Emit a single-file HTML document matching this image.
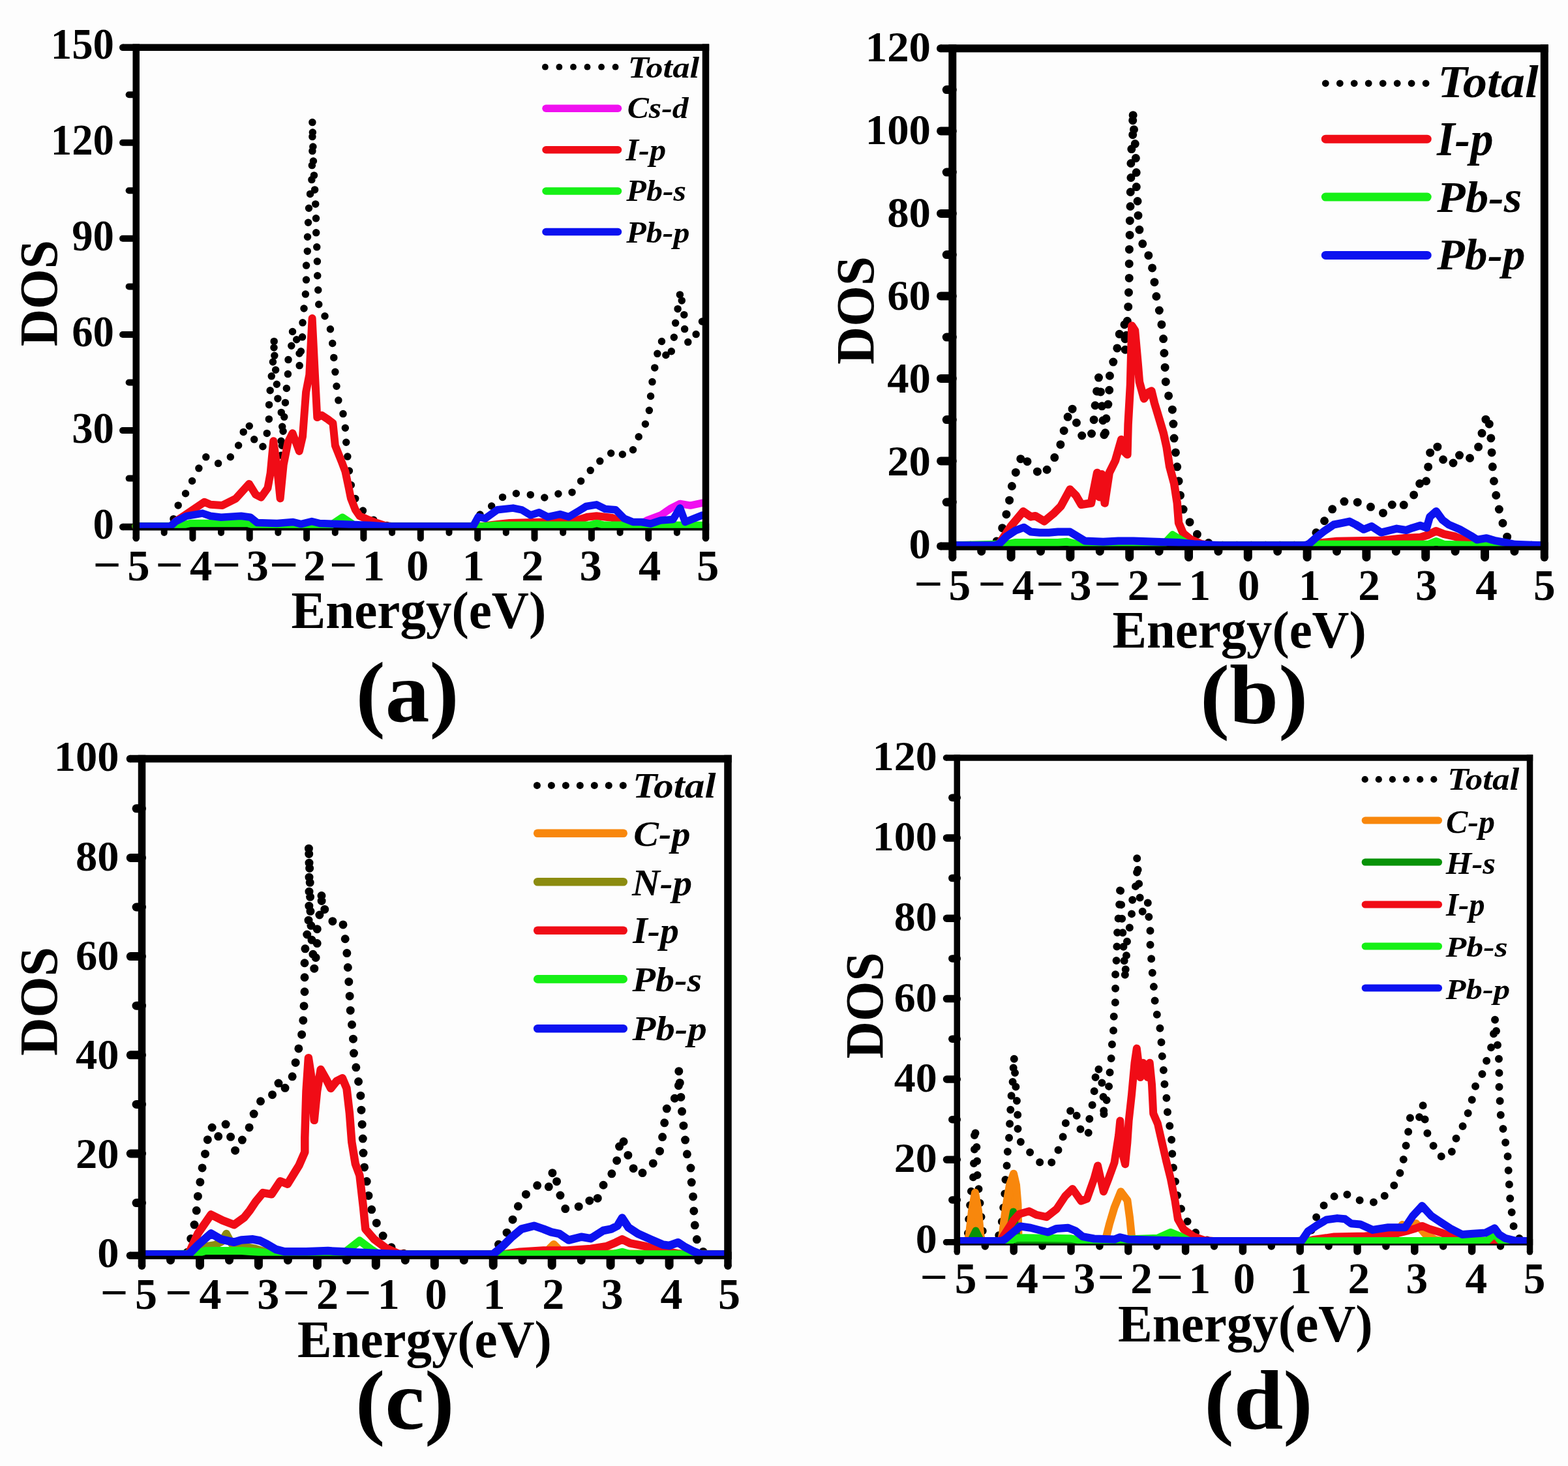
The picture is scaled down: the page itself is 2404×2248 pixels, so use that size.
<!DOCTYPE html>
<html><head><meta charset="utf-8"><title>DOS figure</title>
<style>
html,body{margin:0;padding:0;background:#fff;}
svg{display:block;}
text{font-family:"Liberation Serif","Times New Roman",serif;}
</style></head>
<body>
<svg width="2404" height="2248" viewBox="0 0 2404 2248">
<rect x="0" y="0" width="2404" height="2248" fill="#fdfdfd"/>
<line x1="188.2" y1="72.7" x2="1087.2" y2="72.7" stroke="#000" stroke-width="10.5" stroke-linecap="butt"/>
<circle cx="188.2" cy="72.7" r="5.25" fill="#000"/>
<line x1="188.2" y1="808.0" x2="1087.2" y2="808.0" stroke="#000" stroke-width="10.5" stroke-linecap="butt"/>
<circle cx="188.2" cy="808.0" r="5.25" fill="#000"/>
<line x1="188.0" y1="660.1" x2="208.7" y2="660.1" stroke="#000" stroke-width="10" stroke-linecap="round"/>
<line x1="188.0" y1="513.0" x2="208.7" y2="513.0" stroke="#000" stroke-width="10" stroke-linecap="round"/>
<line x1="188.0" y1="365.8" x2="208.7" y2="365.8" stroke="#000" stroke-width="10" stroke-linecap="round"/>
<line x1="188.0" y1="218.7" x2="208.7" y2="218.7" stroke="#000" stroke-width="10" stroke-linecap="round"/>
<line x1="197.6" y1="733.6" x2="208.7" y2="733.6" stroke="#000" stroke-width="10" stroke-linecap="round"/>
<line x1="197.6" y1="586.5" x2="208.7" y2="586.5" stroke="#000" stroke-width="10" stroke-linecap="round"/>
<line x1="197.6" y1="439.4" x2="208.7" y2="439.4" stroke="#000" stroke-width="10" stroke-linecap="round"/>
<line x1="197.6" y1="292.3" x2="208.7" y2="292.3" stroke="#000" stroke-width="10" stroke-linecap="round"/>
<line x1="197.6" y1="145.2" x2="208.7" y2="145.2" stroke="#000" stroke-width="10" stroke-linecap="round"/>
<line x1="295.4" y1="808.0" x2="295.4" y2="825.5" stroke="#000" stroke-width="10" stroke-linecap="round"/>
<line x1="382.7" y1="808.0" x2="382.7" y2="825.5" stroke="#000" stroke-width="10" stroke-linecap="round"/>
<line x1="470.1" y1="808.0" x2="470.1" y2="825.5" stroke="#000" stroke-width="10" stroke-linecap="round"/>
<line x1="557.4" y1="808.0" x2="557.4" y2="825.5" stroke="#000" stroke-width="10" stroke-linecap="round"/>
<line x1="644.8" y1="808.0" x2="644.8" y2="825.5" stroke="#000" stroke-width="10" stroke-linecap="round"/>
<line x1="732.2" y1="808.0" x2="732.2" y2="825.5" stroke="#000" stroke-width="10" stroke-linecap="round"/>
<line x1="819.5" y1="808.0" x2="819.5" y2="825.5" stroke="#000" stroke-width="10" stroke-linecap="round"/>
<line x1="906.9" y1="808.0" x2="906.9" y2="825.5" stroke="#000" stroke-width="10" stroke-linecap="round"/>
<line x1="994.2" y1="808.0" x2="994.2" y2="825.5" stroke="#000" stroke-width="10" stroke-linecap="round"/>
<line x1="251.7" y1="808.0" x2="251.7" y2="817.0" stroke="#000" stroke-width="10" stroke-linecap="round"/>
<line x1="339.0" y1="808.0" x2="339.0" y2="817.0" stroke="#000" stroke-width="10" stroke-linecap="round"/>
<line x1="426.4" y1="808.0" x2="426.4" y2="817.0" stroke="#000" stroke-width="10" stroke-linecap="round"/>
<line x1="513.8" y1="808.0" x2="513.8" y2="817.0" stroke="#000" stroke-width="10" stroke-linecap="round"/>
<line x1="601.1" y1="808.0" x2="601.1" y2="817.0" stroke="#000" stroke-width="10" stroke-linecap="round"/>
<line x1="688.5" y1="808.0" x2="688.5" y2="817.0" stroke="#000" stroke-width="10" stroke-linecap="round"/>
<line x1="775.8" y1="808.0" x2="775.8" y2="817.0" stroke="#000" stroke-width="10" stroke-linecap="round"/>
<line x1="863.2" y1="808.0" x2="863.2" y2="817.0" stroke="#000" stroke-width="10" stroke-linecap="round"/>
<line x1="950.6" y1="808.0" x2="950.6" y2="817.0" stroke="#000" stroke-width="10" stroke-linecap="round"/>
<line x1="1037.9" y1="808.0" x2="1037.9" y2="817.0" stroke="#000" stroke-width="10" stroke-linecap="round"/>
<text transform="translate(142.52,825.70) scale(0.9550,1)" font-size="67.80" style="font-weight:bold;" fill="#000" >0</text>
<text transform="translate(110.14,678.58) scale(0.9550,1)" font-size="67.80" style="font-weight:bold;" fill="#000" >30</text>
<text transform="translate(110.14,531.46) scale(0.9550,1)" font-size="67.80" style="font-weight:bold;" fill="#000" >60</text>
<text transform="translate(110.14,384.34) scale(0.9550,1)" font-size="67.80" style="font-weight:bold;" fill="#000" >90</text>
<text transform="translate(77.77,237.22) scale(0.9550,1)" font-size="67.80" style="font-weight:bold;" fill="#000" >120</text>
<text transform="translate(77.77,90.10) scale(0.9550,1)" font-size="67.80" style="font-weight:bold;" fill="#000" >150</text>
<line x1="1442.0" y1="74.3" x2="2373.8" y2="74.3" stroke="#000" stroke-width="12" stroke-linecap="butt"/>
<circle cx="1442.0" cy="74.3" r="6.00" fill="#000"/>
<line x1="1442.0" y1="837.6" x2="2373.8" y2="837.6" stroke="#000" stroke-width="12" stroke-linecap="butt"/>
<circle cx="1442.0" cy="837.6" r="6.00" fill="#000"/>
<line x1="1442.5" y1="706.9" x2="1460.3" y2="706.9" stroke="#000" stroke-width="13" stroke-linecap="round"/>
<line x1="1442.5" y1="580.4" x2="1460.3" y2="580.4" stroke="#000" stroke-width="13" stroke-linecap="round"/>
<line x1="1442.5" y1="453.9" x2="1460.3" y2="453.9" stroke="#000" stroke-width="13" stroke-linecap="round"/>
<line x1="1442.5" y1="327.4" x2="1460.3" y2="327.4" stroke="#000" stroke-width="13" stroke-linecap="round"/>
<line x1="1442.5" y1="200.9" x2="1460.3" y2="200.9" stroke="#000" stroke-width="13" stroke-linecap="round"/>
<line x1="1451.2" y1="770.1" x2="1460.3" y2="770.1" stroke="#000" stroke-width="13" stroke-linecap="round"/>
<line x1="1451.2" y1="643.6" x2="1460.3" y2="643.6" stroke="#000" stroke-width="13" stroke-linecap="round"/>
<line x1="1451.2" y1="517.1" x2="1460.3" y2="517.1" stroke="#000" stroke-width="13" stroke-linecap="round"/>
<line x1="1451.2" y1="390.6" x2="1460.3" y2="390.6" stroke="#000" stroke-width="13" stroke-linecap="round"/>
<line x1="1451.2" y1="264.1" x2="1460.3" y2="264.1" stroke="#000" stroke-width="13" stroke-linecap="round"/>
<line x1="1451.2" y1="137.6" x2="1460.3" y2="137.6" stroke="#000" stroke-width="13" stroke-linecap="round"/>
<line x1="1550.1" y1="837.6" x2="1550.1" y2="854.5" stroke="#000" stroke-width="13" stroke-linecap="round"/>
<line x1="1640.9" y1="837.6" x2="1640.9" y2="854.5" stroke="#000" stroke-width="13" stroke-linecap="round"/>
<line x1="1731.7" y1="837.6" x2="1731.7" y2="854.5" stroke="#000" stroke-width="13" stroke-linecap="round"/>
<line x1="1822.5" y1="837.6" x2="1822.5" y2="854.5" stroke="#000" stroke-width="13" stroke-linecap="round"/>
<line x1="1913.3" y1="837.6" x2="1913.3" y2="854.5" stroke="#000" stroke-width="13" stroke-linecap="round"/>
<line x1="2004.1" y1="837.6" x2="2004.1" y2="854.5" stroke="#000" stroke-width="13" stroke-linecap="round"/>
<line x1="2094.9" y1="837.6" x2="2094.9" y2="854.5" stroke="#000" stroke-width="13" stroke-linecap="round"/>
<line x1="2185.7" y1="837.6" x2="2185.7" y2="854.5" stroke="#000" stroke-width="13" stroke-linecap="round"/>
<line x1="2276.5" y1="837.6" x2="2276.5" y2="854.5" stroke="#000" stroke-width="13" stroke-linecap="round"/>
<line x1="1504.7" y1="837.6" x2="1504.7" y2="845.5" stroke="#000" stroke-width="13" stroke-linecap="round"/>
<line x1="1595.5" y1="837.6" x2="1595.5" y2="845.5" stroke="#000" stroke-width="13" stroke-linecap="round"/>
<line x1="1686.3" y1="837.6" x2="1686.3" y2="845.5" stroke="#000" stroke-width="13" stroke-linecap="round"/>
<line x1="1777.1" y1="837.6" x2="1777.1" y2="845.5" stroke="#000" stroke-width="13" stroke-linecap="round"/>
<line x1="1867.9" y1="837.6" x2="1867.9" y2="845.5" stroke="#000" stroke-width="13" stroke-linecap="round"/>
<line x1="1958.7" y1="837.6" x2="1958.7" y2="845.5" stroke="#000" stroke-width="13" stroke-linecap="round"/>
<line x1="2049.5" y1="837.6" x2="2049.5" y2="845.5" stroke="#000" stroke-width="13" stroke-linecap="round"/>
<line x1="2140.3" y1="837.6" x2="2140.3" y2="845.5" stroke="#000" stroke-width="13" stroke-linecap="round"/>
<line x1="2231.1" y1="837.6" x2="2231.1" y2="845.5" stroke="#000" stroke-width="13" stroke-linecap="round"/>
<line x1="2321.9" y1="837.6" x2="2321.9" y2="845.5" stroke="#000" stroke-width="13" stroke-linecap="round"/>
<text transform="translate(1393.57,855.75) scale(1.0200,1)" font-size="65.50" style="font-weight:bold;" fill="#000" >0</text>
<text transform="translate(1360.16,728.72) scale(1.0200,1)" font-size="65.50" style="font-weight:bold;" fill="#000" >20</text>
<text transform="translate(1360.16,601.68) scale(1.0200,1)" font-size="65.50" style="font-weight:bold;" fill="#000" >40</text>
<text transform="translate(1360.16,474.65) scale(1.0200,1)" font-size="65.50" style="font-weight:bold;" fill="#000" >60</text>
<text transform="translate(1360.16,347.62) scale(1.0200,1)" font-size="65.50" style="font-weight:bold;" fill="#000" >80</text>
<text transform="translate(1326.76,220.58) scale(1.0200,1)" font-size="65.50" style="font-weight:bold;" fill="#000" >100</text>
<text transform="translate(1326.76,93.55) scale(1.0200,1)" font-size="65.50" style="font-weight:bold;" fill="#000" >120</text>
<line x1="199.4" y1="1163.6" x2="1121.8" y2="1163.6" stroke="#000" stroke-width="11.5" stroke-linecap="butt"/>
<circle cx="199.4" cy="1163.6" r="5.75" fill="#000"/>
<line x1="199.4" y1="1925.2" x2="1121.8" y2="1925.2" stroke="#000" stroke-width="11.5" stroke-linecap="butt"/>
<circle cx="199.4" cy="1925.2" r="5.75" fill="#000"/>
<line x1="200.2" y1="1769.0" x2="217.5" y2="1769.0" stroke="#000" stroke-width="13" stroke-linecap="round"/>
<line x1="200.2" y1="1617.8" x2="217.5" y2="1617.8" stroke="#000" stroke-width="13" stroke-linecap="round"/>
<line x1="200.2" y1="1466.6" x2="217.5" y2="1466.6" stroke="#000" stroke-width="13" stroke-linecap="round"/>
<line x1="200.2" y1="1315.4" x2="217.5" y2="1315.4" stroke="#000" stroke-width="13" stroke-linecap="round"/>
<line x1="209.0" y1="1844.6" x2="217.5" y2="1844.6" stroke="#000" stroke-width="13" stroke-linecap="round"/>
<line x1="209.0" y1="1693.4" x2="217.5" y2="1693.4" stroke="#000" stroke-width="13" stroke-linecap="round"/>
<line x1="209.0" y1="1542.2" x2="217.5" y2="1542.2" stroke="#000" stroke-width="13" stroke-linecap="round"/>
<line x1="209.0" y1="1391.0" x2="217.5" y2="1391.0" stroke="#000" stroke-width="13" stroke-linecap="round"/>
<line x1="209.0" y1="1239.8" x2="217.5" y2="1239.8" stroke="#000" stroke-width="13" stroke-linecap="round"/>
<line x1="306.5" y1="1925.2" x2="306.5" y2="1940.5" stroke="#000" stroke-width="13" stroke-linecap="round"/>
<line x1="396.4" y1="1925.2" x2="396.4" y2="1940.5" stroke="#000" stroke-width="13" stroke-linecap="round"/>
<line x1="486.4" y1="1925.2" x2="486.4" y2="1940.5" stroke="#000" stroke-width="13" stroke-linecap="round"/>
<line x1="576.3" y1="1925.2" x2="576.3" y2="1940.5" stroke="#000" stroke-width="13" stroke-linecap="round"/>
<line x1="666.3" y1="1925.2" x2="666.3" y2="1940.5" stroke="#000" stroke-width="13" stroke-linecap="round"/>
<line x1="756.2" y1="1925.2" x2="756.2" y2="1940.5" stroke="#000" stroke-width="13" stroke-linecap="round"/>
<line x1="846.2" y1="1925.2" x2="846.2" y2="1940.5" stroke="#000" stroke-width="13" stroke-linecap="round"/>
<line x1="936.1" y1="1925.2" x2="936.1" y2="1940.5" stroke="#000" stroke-width="13" stroke-linecap="round"/>
<line x1="1026.1" y1="1925.2" x2="1026.1" y2="1940.5" stroke="#000" stroke-width="13" stroke-linecap="round"/>
<line x1="261.5" y1="1925.2" x2="261.5" y2="1932.5" stroke="#000" stroke-width="13" stroke-linecap="round"/>
<line x1="351.5" y1="1925.2" x2="351.5" y2="1932.5" stroke="#000" stroke-width="13" stroke-linecap="round"/>
<line x1="441.4" y1="1925.2" x2="441.4" y2="1932.5" stroke="#000" stroke-width="13" stroke-linecap="round"/>
<line x1="531.4" y1="1925.2" x2="531.4" y2="1932.5" stroke="#000" stroke-width="13" stroke-linecap="round"/>
<line x1="621.3" y1="1925.2" x2="621.3" y2="1932.5" stroke="#000" stroke-width="13" stroke-linecap="round"/>
<line x1="711.3" y1="1925.2" x2="711.3" y2="1932.5" stroke="#000" stroke-width="13" stroke-linecap="round"/>
<line x1="801.2" y1="1925.2" x2="801.2" y2="1932.5" stroke="#000" stroke-width="13" stroke-linecap="round"/>
<line x1="891.2" y1="1925.2" x2="891.2" y2="1932.5" stroke="#000" stroke-width="13" stroke-linecap="round"/>
<line x1="981.1" y1="1925.2" x2="981.1" y2="1932.5" stroke="#000" stroke-width="13" stroke-linecap="round"/>
<line x1="1071.1" y1="1925.2" x2="1071.1" y2="1932.5" stroke="#000" stroke-width="13" stroke-linecap="round"/>
<text transform="translate(149.14,1943.42) scale(1.0300,1)" font-size="64.50" style="font-weight:bold;" fill="#000" >0</text>
<text transform="translate(115.92,1791.22) scale(1.0300,1)" font-size="64.50" style="font-weight:bold;" fill="#000" >20</text>
<text transform="translate(115.92,1639.02) scale(1.0300,1)" font-size="64.50" style="font-weight:bold;" fill="#000" >40</text>
<text transform="translate(115.92,1486.82) scale(1.0300,1)" font-size="64.50" style="font-weight:bold;" fill="#000" >60</text>
<text transform="translate(115.92,1334.62) scale(1.0300,1)" font-size="64.50" style="font-weight:bold;" fill="#000" >80</text>
<text transform="translate(82.70,1182.42) scale(1.0300,1)" font-size="64.50" style="font-weight:bold;" fill="#000" >100</text>
<line x1="1450.5" y1="1162.0" x2="2350.2" y2="1162.0" stroke="#000" stroke-width="9.5" stroke-linecap="butt"/>
<circle cx="1450.5" cy="1162.0" r="4.75" fill="#000"/>
<line x1="1450.5" y1="1904.8" x2="2350.2" y2="1904.8" stroke="#000" stroke-width="9.5" stroke-linecap="butt"/>
<circle cx="1450.5" cy="1904.8" r="4.75" fill="#000"/>
<line x1="1451.5" y1="1778.3" x2="1467.3" y2="1778.3" stroke="#000" stroke-width="11.5" stroke-linecap="round"/>
<line x1="1451.5" y1="1655.0" x2="1467.3" y2="1655.0" stroke="#000" stroke-width="11.5" stroke-linecap="round"/>
<line x1="1451.5" y1="1531.6" x2="1467.3" y2="1531.6" stroke="#000" stroke-width="11.5" stroke-linecap="round"/>
<line x1="1451.5" y1="1408.3" x2="1467.3" y2="1408.3" stroke="#000" stroke-width="11.5" stroke-linecap="round"/>
<line x1="1451.5" y1="1284.9" x2="1467.3" y2="1284.9" stroke="#000" stroke-width="11.5" stroke-linecap="round"/>
<line x1="1459.8" y1="1840.0" x2="1467.3" y2="1840.0" stroke="#000" stroke-width="11.5" stroke-linecap="round"/>
<line x1="1459.8" y1="1716.7" x2="1467.3" y2="1716.7" stroke="#000" stroke-width="11.5" stroke-linecap="round"/>
<line x1="1459.8" y1="1593.3" x2="1467.3" y2="1593.3" stroke="#000" stroke-width="11.5" stroke-linecap="round"/>
<line x1="1459.8" y1="1469.9" x2="1467.3" y2="1469.9" stroke="#000" stroke-width="11.5" stroke-linecap="round"/>
<line x1="1459.8" y1="1346.6" x2="1467.3" y2="1346.6" stroke="#000" stroke-width="11.5" stroke-linecap="round"/>
<line x1="1459.8" y1="1223.2" x2="1467.3" y2="1223.2" stroke="#000" stroke-width="11.5" stroke-linecap="round"/>
<line x1="1554.2" y1="1904.8" x2="1554.2" y2="1918.8" stroke="#000" stroke-width="11.5" stroke-linecap="round"/>
<line x1="1642.0" y1="1904.8" x2="1642.0" y2="1918.8" stroke="#000" stroke-width="11.5" stroke-linecap="round"/>
<line x1="1729.8" y1="1904.8" x2="1729.8" y2="1918.8" stroke="#000" stroke-width="11.5" stroke-linecap="round"/>
<line x1="1817.6" y1="1904.8" x2="1817.6" y2="1918.8" stroke="#000" stroke-width="11.5" stroke-linecap="round"/>
<line x1="1905.4" y1="1904.8" x2="1905.4" y2="1918.8" stroke="#000" stroke-width="11.5" stroke-linecap="round"/>
<line x1="1993.2" y1="1904.8" x2="1993.2" y2="1918.8" stroke="#000" stroke-width="11.5" stroke-linecap="round"/>
<line x1="2081.0" y1="1904.8" x2="2081.0" y2="1918.8" stroke="#000" stroke-width="11.5" stroke-linecap="round"/>
<line x1="2168.8" y1="1904.8" x2="2168.8" y2="1918.8" stroke="#000" stroke-width="11.5" stroke-linecap="round"/>
<line x1="2256.6" y1="1904.8" x2="2256.6" y2="1918.8" stroke="#000" stroke-width="11.5" stroke-linecap="round"/>
<line x1="1510.3" y1="1904.8" x2="1510.3" y2="1911.0" stroke="#000" stroke-width="11.5" stroke-linecap="round"/>
<line x1="1598.1" y1="1904.8" x2="1598.1" y2="1911.0" stroke="#000" stroke-width="11.5" stroke-linecap="round"/>
<line x1="1685.9" y1="1904.8" x2="1685.9" y2="1911.0" stroke="#000" stroke-width="11.5" stroke-linecap="round"/>
<line x1="1773.7" y1="1904.8" x2="1773.7" y2="1911.0" stroke="#000" stroke-width="11.5" stroke-linecap="round"/>
<line x1="1861.5" y1="1904.8" x2="1861.5" y2="1911.0" stroke="#000" stroke-width="11.5" stroke-linecap="round"/>
<line x1="1949.3" y1="1904.8" x2="1949.3" y2="1911.0" stroke="#000" stroke-width="11.5" stroke-linecap="round"/>
<line x1="2037.1" y1="1904.8" x2="2037.1" y2="1911.0" stroke="#000" stroke-width="11.5" stroke-linecap="round"/>
<line x1="2124.9" y1="1904.8" x2="2124.9" y2="1911.0" stroke="#000" stroke-width="11.5" stroke-linecap="round"/>
<line x1="2212.7" y1="1904.8" x2="2212.7" y2="1911.0" stroke="#000" stroke-width="11.5" stroke-linecap="round"/>
<line x1="2300.5" y1="1904.8" x2="2300.5" y2="1911.0" stroke="#000" stroke-width="11.5" stroke-linecap="round"/>
<text transform="translate(1403.68,1920.66) scale(1.0300,1)" font-size="64.00" style="font-weight:bold;" fill="#000" >0</text>
<text transform="translate(1370.72,1797.30) scale(1.0300,1)" font-size="64.00" style="font-weight:bold;" fill="#000" >20</text>
<text transform="translate(1370.72,1673.94) scale(1.0300,1)" font-size="64.00" style="font-weight:bold;" fill="#000" >40</text>
<text transform="translate(1370.72,1550.58) scale(1.0300,1)" font-size="64.00" style="font-weight:bold;" fill="#000" >60</text>
<text transform="translate(1370.72,1427.22) scale(1.0300,1)" font-size="64.00" style="font-weight:bold;" fill="#000" >80</text>
<text transform="translate(1337.76,1303.86) scale(1.0300,1)" font-size="64.00" style="font-weight:bold;" fill="#000" >100</text>
<text transform="translate(1337.76,1180.50) scale(1.0300,1)" font-size="64.00" style="font-weight:bold;" fill="#000" >120</text>
<text transform="translate(195.27,889.80) scale(1.0000,1)" font-size="68.64" style="font-weight:bold;" fill="#000" >5</text>
<text transform="translate(290.96,889.80) scale(1.0000,1)" font-size="68.64" style="font-weight:bold;" fill="#000" >4</text>
<text transform="translate(377.59,889.80) scale(1.0000,1)" font-size="68.64" style="font-weight:bold;" fill="#000" >3</text>
<text transform="translate(464.99,889.80) scale(1.0000,1)" font-size="68.64" style="font-weight:bold;" fill="#000" >2</text>
<text transform="translate(555.71,889.80) scale(1.0000,1)" font-size="68.64" style="font-weight:bold;" fill="#000" >1</text>
<text transform="translate(623.04,889.80) scale(1.0000,1)" font-size="68.64" style="font-weight:bold;" fill="#000" >0</text>
<text transform="translate(708.81,889.80) scale(1.0000,1)" font-size="68.64" style="font-weight:bold;" fill="#000" >1</text>
<text transform="translate(799.14,889.80) scale(1.0000,1)" font-size="68.64" style="font-weight:bold;" fill="#000" >2</text>
<text transform="translate(888.44,889.80) scale(1.0000,1)" font-size="68.64" style="font-weight:bold;" fill="#000" >3</text>
<text transform="translate(979.11,889.80) scale(1.0000,1)" font-size="68.64" style="font-weight:bold;" fill="#000" >4</text>
<text transform="translate(1068.07,889.80) scale(1.0000,1)" font-size="68.64" style="font-weight:bold;" fill="#000" >5</text>
<text transform="translate(142.21,888.65) scale(1.1036,1)" font-size="68.64" style="font-weight:bold;" fill="#000" >−</text>
<text transform="translate(238.28,888.65) scale(1.0850,1)" font-size="68.64" style="font-weight:bold;" fill="#000" >−</text>
<text transform="translate(324.82,888.65) scale(1.1315,1)" font-size="68.64" style="font-weight:bold;" fill="#000" >−</text>
<text transform="translate(412.82,888.65) scale(1.1315,1)" font-size="68.64" style="font-weight:bold;" fill="#000" >−</text>
<text transform="translate(504.76,888.65) scale(1.0912,1)" font-size="68.64" style="font-weight:bold;" fill="#000" >−</text>
<text transform="translate(1454.61,919.90) scale(1.0000,1)" font-size="67.27" style="font-weight:bold;" fill="#000" >5</text>
<text transform="translate(1551.70,919.90) scale(1.0000,1)" font-size="67.27" style="font-weight:bold;" fill="#000" >4</text>
<text transform="translate(1639.78,919.90) scale(1.0000,1)" font-size="67.27" style="font-weight:bold;" fill="#000" >3</text>
<text transform="translate(1728.73,919.90) scale(1.0000,1)" font-size="67.27" style="font-weight:bold;" fill="#000" >2</text>
<text transform="translate(1822.52,919.90) scale(1.0000,1)" font-size="67.27" style="font-weight:bold;" fill="#000" >1</text>
<text transform="translate(1897.83,919.90) scale(1.0000,1)" font-size="67.27" style="font-weight:bold;" fill="#000" >0</text>
<text transform="translate(1991.02,919.90) scale(1.0000,1)" font-size="67.27" style="font-weight:bold;" fill="#000" >1</text>
<text transform="translate(2082.23,919.90) scale(1.0000,1)" font-size="67.27" style="font-weight:bold;" fill="#000" >2</text>
<text transform="translate(2169.88,919.90) scale(1.0000,1)" font-size="67.27" style="font-weight:bold;" fill="#000" >3</text>
<text transform="translate(2262.25,919.90) scale(1.0000,1)" font-size="67.27" style="font-weight:bold;" fill="#000" >4</text>
<text transform="translate(2350.91,919.90) scale(1.0000,1)" font-size="67.27" style="font-weight:bold;" fill="#000" >5</text>
<text transform="translate(1400.90,918.20) scale(1.1607,1)" font-size="67.27" style="font-weight:bold;" fill="#000" >−</text>
<text transform="translate(1499.24,918.20) scale(1.1164,1)" font-size="67.27" style="font-weight:bold;" fill="#000" >−</text>
<text transform="translate(1588.14,918.20) scale(1.1164,1)" font-size="67.27" style="font-weight:bold;" fill="#000" >−</text>
<text transform="translate(1677.18,918.20) scale(1.0753,1)" font-size="67.27" style="font-weight:bold;" fill="#000" >−</text>
<text transform="translate(1771.24,918.20) scale(1.1164,1)" font-size="67.27" style="font-weight:bold;" fill="#000" >−</text>
<text transform="translate(207.02,2007.30) scale(1.0000,1)" font-size="68.03" style="font-weight:bold;" fill="#000" >5</text>
<text transform="translate(305.41,2007.30) scale(1.0000,1)" font-size="68.03" style="font-weight:bold;" fill="#000" >4</text>
<text transform="translate(394.19,2007.30) scale(1.0000,1)" font-size="68.03" style="font-weight:bold;" fill="#000" >3</text>
<text transform="translate(485.09,2007.30) scale(1.0000,1)" font-size="68.03" style="font-weight:bold;" fill="#000" >2</text>
<text transform="translate(578.87,2007.30) scale(1.0000,1)" font-size="68.03" style="font-weight:bold;" fill="#000" >1</text>
<text transform="translate(651.39,2007.30) scale(1.0000,1)" font-size="68.03" style="font-weight:bold;" fill="#000" >0</text>
<text transform="translate(740.62,2007.30) scale(1.0000,1)" font-size="68.03" style="font-weight:bold;" fill="#000" >1</text>
<text transform="translate(831.24,2007.30) scale(1.0000,1)" font-size="68.03" style="font-weight:bold;" fill="#000" >2</text>
<text transform="translate(921.44,2007.30) scale(1.0000,1)" font-size="68.03" style="font-weight:bold;" fill="#000" >3</text>
<text transform="translate(1012.51,2007.30) scale(1.0000,1)" font-size="68.03" style="font-weight:bold;" fill="#000" >4</text>
<text transform="translate(1101.02,2007.30) scale(1.0000,1)" font-size="68.03" style="font-weight:bold;" fill="#000" >5</text>
<text transform="translate(153.74,2005.45) scale(1.1040,1)" font-size="68.03" style="font-weight:bold;" fill="#000" >−</text>
<text transform="translate(253.28,2005.45) scale(1.0634,1)" font-size="68.03" style="font-weight:bold;" fill="#000" >−</text>
<text transform="translate(343.48,2005.45) scale(1.0634,1)" font-size="68.03" style="font-weight:bold;" fill="#000" >−</text>
<text transform="translate(433.78,2005.45) scale(1.0634,1)" font-size="68.03" style="font-weight:bold;" fill="#000" >−</text>
<text transform="translate(527.88,2005.45) scale(1.0634,1)" font-size="68.03" style="font-weight:bold;" fill="#000" >−</text>
<text transform="translate(1463.66,1983.20) scale(1.0000,1)" font-size="67.27" style="font-weight:bold;" fill="#000" >5</text>
<text transform="translate(1558.25,1983.20) scale(1.0000,1)" font-size="67.27" style="font-weight:bold;" fill="#000" >4</text>
<text transform="translate(1645.68,1983.20) scale(1.0000,1)" font-size="67.27" style="font-weight:bold;" fill="#000" >3</text>
<text transform="translate(1733.28,1983.20) scale(1.0000,1)" font-size="67.27" style="font-weight:bold;" fill="#000" >2</text>
<text transform="translate(1822.52,1983.20) scale(1.0000,1)" font-size="67.27" style="font-weight:bold;" fill="#000" >1</text>
<text transform="translate(1890.68,1983.20) scale(1.0000,1)" font-size="67.27" style="font-weight:bold;" fill="#000" >0</text>
<text transform="translate(1977.27,1983.20) scale(1.0000,1)" font-size="67.27" style="font-weight:bold;" fill="#000" >1</text>
<text transform="translate(2066.53,1983.20) scale(1.0000,1)" font-size="67.27" style="font-weight:bold;" fill="#000" >2</text>
<text transform="translate(2155.48,1983.20) scale(1.0000,1)" font-size="67.27" style="font-weight:bold;" fill="#000" >3</text>
<text transform="translate(2246.55,1983.20) scale(1.0000,1)" font-size="67.27" style="font-weight:bold;" fill="#000" >4</text>
<text transform="translate(2335.76,1983.20) scale(1.0000,1)" font-size="67.27" style="font-weight:bold;" fill="#000" >5</text>
<text transform="translate(1410.24,1981.40) scale(1.1164,1)" font-size="67.27" style="font-weight:bold;" fill="#000" >−</text>
<text transform="translate(1507.18,1981.40) scale(1.0753,1)" font-size="67.27" style="font-weight:bold;" fill="#000" >−</text>
<text transform="translate(1594.78,1981.40) scale(1.0753,1)" font-size="67.27" style="font-weight:bold;" fill="#000" >−</text>
<text transform="translate(1682.38,1981.40) scale(1.0753,1)" font-size="67.27" style="font-weight:bold;" fill="#000" >−</text>
<text transform="translate(1772.68,1981.40) scale(1.0753,1)" font-size="67.27" style="font-weight:bold;" fill="#000" >−</text>
<text transform="translate(87.00,531.19) rotate(-90) scale(0.9603,1)" font-size="82.58" style="font-weight:bold" fill="#000">DOS</text>
<text transform="translate(1338.70,559.01) rotate(-90) scale(0.9773,1)" font-size="82.58" style="font-weight:bold" fill="#000">DOS</text>
<text transform="translate(86.70,1619.02) rotate(-90) scale(0.9827,1)" font-size="82.58" style="font-weight:bold" fill="#000">DOS</text>
<text transform="translate(1353.20,1623.59) rotate(-90) scale(0.9741,1)" font-size="81.52" style="font-weight:bold" fill="#000">DOS</text>
<text transform="translate(446.61,963.00) scale(0.9880,1)" font-size="80.00" style="font-weight:bold;" fill="#000" >Energy(eV)</text>
<text transform="translate(1705.42,993.00) scale(0.9828,1)" font-size="80.15" style="font-weight:bold;" fill="#000" >Energy(eV)</text>
<text transform="translate(456.02,2080.50) scale(0.9859,1)" font-size="80.00" style="font-weight:bold;" fill="#000" >Energy(eV)</text>
<text transform="translate(1714.01,2056.70) scale(0.9880,1)" font-size="80.00" style="font-weight:bold;" fill="#000" >Energy(eV)</text>
<text transform="translate(545.60,1106.18) scale(1.0366,1)" font-size="130.77" style="font-weight:bold;" fill="#000" >(a)</text>
<text transform="translate(1840.12,1108.66) scale(1.0512,1)" font-size="128.57" style="font-weight:bold;" fill="#000" >(b)</text>
<text transform="translate(544.64,2191.18) scale(1.0654,1)" font-size="128.46" style="font-weight:bold;" fill="#000" >(c)</text>
<text transform="translate(1846.17,2191.28) scale(1.0610,1)" font-size="128.46" style="font-weight:bold;" fill="#000" >(d)</text>
<circle cx="835.9" cy="102.7" r="4.9" fill="#000"/>
<circle cx="857.4" cy="102.7" r="4.9" fill="#000"/>
<circle cx="879.0" cy="102.7" r="4.9" fill="#000"/>
<circle cx="900.5" cy="102.7" r="4.9" fill="#000"/>
<circle cx="922.1" cy="102.7" r="4.9" fill="#000"/>
<circle cx="943.6" cy="102.7" r="4.9" fill="#000"/>
<text transform="translate(962.85,118.90) scale(1.1346,1)" font-size="46.47" style="font-weight:bold;font-style:italic;" fill="#000" >Total</text>
<line x1="837.0" y1="166.2" x2="947.5" y2="166.2" stroke="#f010f0" stroke-width="11.5" stroke-linecap="round"/>
<text transform="translate(961.76,181.30) scale(1.0672,1)" font-size="46.47" style="font-weight:bold;font-style:italic;" fill="#000" >Cs-d</text>
<line x1="837.0" y1="229.7" x2="947.5" y2="229.7" stroke="#f00c16" stroke-width="11.5" stroke-linecap="round"/>
<text transform="translate(959.50,245.80) scale(1.0224,1)" font-size="49.31" style="font-weight:bold;font-style:italic;" fill="#000" >I-p</text>
<line x1="837.0" y1="293.0" x2="947.5" y2="293.0" stroke="#16f016" stroke-width="11.5" stroke-linecap="round"/>
<text transform="translate(960.30,308.00) scale(1.0877,1)" font-size="46.04" style="font-weight:bold;font-style:italic;" fill="#000" >Pb-s</text>
<line x1="837.0" y1="355.5" x2="947.5" y2="355.5" stroke="#0c12f0" stroke-width="11.5" stroke-linecap="round"/>
<text transform="translate(960.30,371.70) scale(1.0753,1)" font-size="46.47" style="font-weight:bold;font-style:italic;" fill="#000" >Pb-p</text>
<circle cx="2032.3" cy="127.8" r="5.4" fill="#000"/>
<circle cx="2054.3" cy="127.8" r="5.4" fill="#000"/>
<circle cx="2076.2" cy="127.8" r="5.4" fill="#000"/>
<circle cx="2098.2" cy="127.8" r="5.4" fill="#000"/>
<circle cx="2120.2" cy="127.8" r="5.4" fill="#000"/>
<circle cx="2142.2" cy="127.8" r="5.4" fill="#000"/>
<circle cx="2164.1" cy="127.8" r="5.4" fill="#000"/>
<circle cx="2186.1" cy="127.8" r="5.4" fill="#000"/>
<text transform="translate(2204.22,149.30) scale(1.0689,1)" font-size="69.64" style="font-weight:bold;font-style:italic;" fill="#000" >Total</text>
<line x1="2032.3" y1="213.2" x2="2188.2" y2="213.2" stroke="#f00c16" stroke-width="13" stroke-linecap="round"/>
<text transform="translate(2203.01,237.50) scale(0.9586,1)" font-size="73.89" style="font-weight:bold;font-style:italic;" fill="#000" >I-p</text>
<line x1="2032.3" y1="302.1" x2="2188.2" y2="302.1" stroke="#16f016" stroke-width="13" stroke-linecap="round"/>
<text transform="translate(2203.30,324.70) scale(1.0406,1)" font-size="68.20" style="font-weight:bold;font-style:italic;" fill="#000" >Pb-s</text>
<line x1="2032.3" y1="391.4" x2="2188.2" y2="391.4" stroke="#0c12f0" stroke-width="13" stroke-linecap="round"/>
<text transform="translate(2203.30,412.90) scale(1.0214,1)" font-size="68.20" style="font-weight:bold;font-style:italic;" fill="#000" >Pb-p</text>
<circle cx="823.4" cy="1204.4" r="5.5" fill="#000"/>
<circle cx="845.4" cy="1204.4" r="5.5" fill="#000"/>
<circle cx="867.4" cy="1204.4" r="5.5" fill="#000"/>
<circle cx="889.3" cy="1204.4" r="5.5" fill="#000"/>
<circle cx="911.3" cy="1204.4" r="5.5" fill="#000"/>
<circle cx="933.3" cy="1204.4" r="5.5" fill="#000"/>
<circle cx="955.3" cy="1204.4" r="5.5" fill="#000"/>
<text transform="translate(970.09,1223.30) scale(1.1269,1)" font-size="54.53" style="font-weight:bold;font-style:italic;" fill="#000" >Total</text>
<line x1="824.2" y1="1277.7" x2="955.7" y2="1277.7" stroke="#f8870c" stroke-width="12.6" stroke-linecap="round"/>
<text transform="translate(971.37,1296.60) scale(1.0480,1)" font-size="55.45" style="font-weight:bold;font-style:italic;" fill="#000" >C-p</text>
<line x1="824.2" y1="1352.2" x2="955.7" y2="1352.2" stroke="#8c8c10" stroke-width="12.6" stroke-linecap="round"/>
<text transform="translate(968.89,1372.50) scale(1.0592,1)" font-size="56.03" style="font-weight:bold;font-style:italic;" fill="#000" >N-p</text>
<line x1="824.2" y1="1426.8" x2="955.7" y2="1426.8" stroke="#f00c16" stroke-width="12.6" stroke-linecap="round"/>
<text transform="translate(970.18,1445.80) scale(1.0009,1)" font-size="57.86" style="font-weight:bold;font-style:italic;" fill="#000" >I-p</text>
<line x1="824.2" y1="1501.4" x2="955.7" y2="1501.4" stroke="#16f016" stroke-width="12.6" stroke-linecap="round"/>
<text transform="translate(969.60,1520.40) scale(1.1006,1)" font-size="52.81" style="font-weight:bold;font-style:italic;" fill="#000" >Pb-s</text>
<line x1="824.2" y1="1577.2" x2="955.7" y2="1577.2" stroke="#0c12f0" stroke-width="12.6" stroke-linecap="round"/>
<text transform="translate(969.60,1594.90) scale(1.1155,1)" font-size="52.66" style="font-weight:bold;font-style:italic;" fill="#000" >Pb-p</text>
<circle cx="2092.7" cy="1195.2" r="5.1" fill="#000"/>
<circle cx="2113.8" cy="1195.2" r="5.1" fill="#000"/>
<circle cx="2134.9" cy="1195.2" r="5.1" fill="#000"/>
<circle cx="2156.1" cy="1195.2" r="5.1" fill="#000"/>
<circle cx="2177.2" cy="1195.2" r="5.1" fill="#000"/>
<circle cx="2198.3" cy="1195.2" r="5.1" fill="#000"/>
<text transform="translate(2219.22,1210.70) scale(1.1146,1)" font-size="47.63" style="font-weight:bold;font-style:italic;" fill="#000" >Total</text>
<line x1="2093.1" y1="1258.1" x2="2205.6" y2="1258.1" stroke="#f8870c" stroke-width="11" stroke-linecap="round"/>
<text transform="translate(2217.05,1276.80) scale(0.9993,1)" font-size="50.00" style="font-weight:bold;font-style:italic;" fill="#000" >C-p</text>
<line x1="2093.1" y1="1322.1" x2="2205.6" y2="1322.1" stroke="#089208" stroke-width="11" stroke-linecap="round"/>
<text transform="translate(2216.85,1339.70) scale(1.0408,1)" font-size="48.85" style="font-weight:bold;font-style:italic;" fill="#000" >H-s</text>
<line x1="2093.1" y1="1387.1" x2="2205.6" y2="1387.1" stroke="#f00c16" stroke-width="11" stroke-linecap="round"/>
<text transform="translate(2217.09,1403.70) scale(0.9647,1)" font-size="50.53" style="font-weight:bold;font-style:italic;" fill="#000" >I-p</text>
<line x1="2093.1" y1="1451.1" x2="2205.6" y2="1451.1" stroke="#16f016" stroke-width="11" stroke-linecap="round"/>
<text transform="translate(2216.60,1466.50) scale(1.1726,1)" font-size="44.32" style="font-weight:bold;font-style:italic;" fill="#000" >Pb-s</text>
<line x1="2093.1" y1="1515.1" x2="2205.6" y2="1515.1" stroke="#0c12f0" stroke-width="11" stroke-linecap="round"/>
<text transform="translate(2216.60,1531.60) scale(1.1405,1)" font-size="44.46" style="font-weight:bold;font-style:italic;" fill="#000" >Pb-p</text>
<polyline points="208.0,807.0 262.0,807.0 270.5,782.9 276.6,764.6 287.9,753.4 296.1,733.9 306.3,715.5 314.5,700.0 331.8,711.3 347.2,707.2 363.5,689.8 369.6,670.3 379.9,647.8 388.0,666.2 392.1,684.7 404.0,684.7 410.0,661.6 412.5,641.5 412.5,621.5 414.0,600.4 416.0,579.4 418.0,559.3 420.0,538.3 420.0,517.2 421.0,550.3 423.0,571.4 424.5,591.4 426.0,612.5 431.0,629.5 433.0,651.6 431.0,671.6 431.0,701.7 438.0,609.5 440.0,588.4 442.0,567.3 442.0,547.3 448.5,524.2 448.5,504.2 459.0,532.3 459.0,562.3 464.0,512.2 464.0,492.1 466.0,473.1 468.5,450.0 469.5,429.0 469.5,407.9 471.3,387.9 471.3,367.8 472.3,346.7 473.2,325.7 474.2,304.6 477.9,284.6 477.9,263.5 478.9,242.5 478.9,223.4 478.9,202.4 478.9,184.3 480.5,250.5 483.6,309.6 484.5,331.7 484.5,352.8 485.5,372.8 486.4,393.9 486.4,414.9 487.3,435.0 488.3,456.0 489.2,477.1 499.6,486.1 506.6,505.2 509.7,526.2 511.7,547.3 513.7,568.3 515.8,588.4 516.8,608.5 525.0,629.5 529.0,649.6 530.1,671.6 532.1,692.7 534.2,713.7 537.2,733.8 539.3,751.8 547.5,770.9 560.8,789.0 576.0,799.5 590.0,805.0 600.0,807.0 725.0,807.0 730.6,792.6 750.6,779.1 765.3,764.5 785.3,756.5 801.3,757.3 817.3,759.1 834.6,763.1 845.3,759.1 859.9,756.5 875.9,756.5 887.9,740.4 902.6,725.7 913.2,708.3 927.9,705.6 941.2,689.6 955.9,697.6 967.9,697.6 974.6,677.5 986.5,657.5 994.6,637.4 996.8,615.1 998.7,596.3 1001.3,575.0 1005.8,554.9 1009.1,534.9 1014.2,522.5 1019.4,542.0 1025.2,551.7 1031.6,531.7 1034.2,510.3 1036.2,489.5 1040.0,468.9 1043.3,445.5 1045.8,465.0 1049.1,484.4 1049.7,506.4 1053.0,524.5 1063.9,525.1 1069.1,505.1 1077.0,492.1" fill="none" stroke="#000" stroke-width="11.5" stroke-linejoin="round" stroke-linecap="round" stroke-dasharray="0 22"/>
<polyline points="960.0,807.0 980.0,805.0 991.9,797.9 1013.2,789.9 1029.2,779.1 1042.5,772.5 1058.5,775.1 1077.2,771.2" fill="none" stroke="#f010f0" stroke-width="11.5" stroke-linejoin="round" stroke-linecap="round" />
<polyline points="208.0,807.0 262.0,807.0 269.5,799.5 287.9,787.1 313.4,769.7 322.6,773.8 341.0,774.9 361.5,764.6 381.9,742.0 392.1,758.5 400.3,762.6 410.5,748.2 414.6,725.7 419.2,676.3 424.4,712.6 429.6,764.4 434.7,712.6 441.6,678.0 448.5,664.3 458.8,691.9 464.0,669.4 469.1,601.4 474.3,574.6 478.6,488.1 482.9,574.6 486.3,640.1 493.2,636.7 503.5,643.6 510.4,648.8 513.9,683.3 524.2,709.1 529.4,723.0 534.5,747.1 538.0,764.4 544.8,781.6 551.5,791.3 565.9,797.4 578.0,802.0 590.0,806.0 600.0,807.0 740.0,807.0 746.6,805.9 781.3,801.9 879.9,799.2 901.2,792.6 914.6,791.2 938.6,793.9 954.6,801.9 970.0,807.0 1077.0,807.0" fill="none" stroke="#f00c16" stroke-width="12" stroke-linejoin="round" stroke-linecap="round" />
<polyline points="208.0,807.0 273.6,806.6 292.0,802.5 379.9,802.5 394.2,807.0 500.0,807.0 506.6,805.6 525.0,793.3 543.4,805.6 560.0,807.0 740.0,807.0 760.0,805.5 905.0,805.0 915.0,802.5 925.0,805.0 1077.0,805.5" fill="none" stroke="#16f016" stroke-width="11.5" stroke-linejoin="round" stroke-linecap="round" />
<polyline points="212.0,807.0 261.3,807.0 269.5,799.5 285.8,791.3 310.4,787.1 322.6,791.3 339.0,793.3 369.6,791.3 384.0,793.3 394.2,801.5 424.8,802.5 449.4,800.5 461.6,803.6 478.0,799.5 490.2,802.5 516.8,803.6 567.9,805.6 590.0,807.0 725.3,807.0 733.3,792.6 744.0,795.0 762.6,781.8 786.6,779.1 800.0,781.8 813.3,789.9 826.6,785.8 839.9,792.6 858.6,788.5 871.9,792.6 887.9,783.1 898.6,776.5 914.6,773.8 927.9,780.5 943.9,781.8 957.2,795.2 970.6,800.5 983.9,800.5 997.2,803.2 1013.2,797.9 1031.9,796.6 1042.5,779.1 1050.5,800.5 1063.9,795.2 1077.2,789.9" fill="none" stroke="#0c12f0" stroke-width="11.5" stroke-linejoin="round" stroke-linecap="round" />
<polyline points="1466.0,836.2 1525.0,836.2 1531.7,822.6 1539.8,801.7 1544.5,782.0 1549.1,759.9 1552.6,737.8 1559.5,718.1 1567.6,696.0 1575.7,708.8 1583.8,718.1 1598.8,729.7 1610.4,712.3 1620.8,694.8 1628.9,673.9 1632.4,653.0 1642.8,622.8 1649.7,646.0 1656.7,666.9 1669.4,673.9 1676.4,658.9 1677.5,634.4 1679.8,615.8 1682.1,594.9 1684.4,578.6 1687.9,604.2 1690.2,632.0 1691.4,650.7 1693.7,676.2 1696.0,641.4 1698.3,622.8 1700.7,611.2 1700.7,590.3 1701.8,569.4 1708.7,549.6 1714.5,527.5 1716.9,506.6 1723.8,495.0 1725.0,515.9 1725.0,539.0 1729.6,474.1 1730.3,452.4 1731.2,431.3 1731.2,409.3 1731.2,387.2 1732.1,365.2 1732.1,344.1 1733.0,322.0 1733.0,300.0 1733.9,278.0 1733.9,256.9 1733.9,235.8 1736.7,213.7 1736.7,191.7 1736.7,169.7 1738.5,199.0 1740.3,221.1 1741.3,241.3 1742.2,263.3 1742.2,285.4 1744.0,307.4 1744.9,329.4 1746.7,351.5 1751.3,371.6 1755.0,389.1 1765.0,393.6 1766.9,414.8 1770.5,435.9 1773.3,457.9 1777.8,478.1 1781.6,502.0 1784.0,522.9 1785.1,545.0 1786.3,567.1 1787.4,588.0 1792.0,608.8 1797.8,629.7 1799.0,651.8 1800.1,672.7 1802.5,694.8 1804.8,716.9 1807.1,737.8 1809.4,758.7 1814.0,780.8 1823.3,799.3 1833.7,818.0 1851.0,831.9 1865.0,836.2 2005.0,836.2 2013.5,822.7 2028.0,803.3 2038.8,783.9 2055.7,770.5 2073.8,765.7 2092.0,776.6 2108.9,777.9 2123.3,788.8 2137.8,769.3 2151.1,775.4 2166.8,760.9 2175.2,740.3 2184.9,748.7 2188.5,725.7 2190.9,705.1 2194.6,682.1 2205.4,685.7 2212.7,705.1 2226.0,714.8 2234.4,694.2 2245.3,707.6 2257.3,700.2 2269.4,680.8 2273.0,657.9 2280.3,636.0 2285.1,659.1 2286.3,679.6 2287.5,701.4 2288.7,722.1 2291.1,743.9 2294.8,765.7 2299.6,786.3 2305.6,808.2 2311.7,826.4 2320.0,836.2 2362.0,836.2" fill="none" stroke="#000" stroke-width="13" stroke-linejoin="round" stroke-linecap="round" stroke-dasharray="0 22"/>
<polyline points="1466.0,836.2 1525.0,836.2 1531.7,834.2 1550.2,806.4 1568.8,784.3 1580.3,792.4 1587.3,791.2 1601.1,799.3 1615.0,787.8 1626.6,776.1 1640.5,750.5 1649.7,759.9 1657.8,773.8 1672.9,771.5 1682.1,725.0 1685.6,762.2 1689.1,727.3 1693.7,771.5 1700.7,725.0 1709.9,706.5 1719.2,673.9 1723.8,692.5 1728.4,697.1 1729.6,650.7 1733.0,590.3 1735.4,499.6 1740.0,506.6 1744.6,557.7 1746.9,585.6 1753.9,611.2 1760.8,601.9 1765.4,599.5 1770.0,618.2 1777.0,641.4 1783.9,664.6 1788.6,685.6 1793.2,715.7 1800.1,741.3 1804.8,771.5 1807.1,801.7 1814.0,818.0 1825.6,827.3 1841.8,834.2 1853.4,836.2 2020.0,836.2 2025.6,832.4 2049.7,830.0 2117.3,828.8 2129.4,827.6 2153.5,825.2 2177.7,823.9 2189.7,820.2 2201.8,814.2 2213.9,819.0 2230.8,822.7 2242.8,827.6 2254.9,833.6 2262.0,836.2 2362.0,836.2" fill="none" stroke="#f00c16" stroke-width="12.5" stroke-linejoin="round" stroke-linecap="round" />
<polyline points="1466.0,836.2 1545.6,834.2 1557.2,831.9 1622.0,831.9 1635.9,830.8 1649.7,834.2 1660.0,836.2 1777.0,834.2 1787.0,831.9 1797.8,820.3 1809.4,827.3 1821.0,834.2 1830.0,836.2 2015.0,836.2 2020.7,834.8 2190.0,834.8 2201.8,830.0 2213.9,834.8 2257.3,836.0 2362.0,836.2" fill="none" stroke="#16f016" stroke-width="12" stroke-linejoin="round" stroke-linecap="round" />
<polyline points="1466.0,836.2 1525.0,836.2 1531.7,834.2 1543.3,822.6 1557.2,813.3 1569.9,808.7 1580.3,815.6 1594.2,816.8 1608.1,816.8 1622.0,815.6 1640.5,815.6 1652.1,822.6 1663.6,829.6 1691.4,830.8 1714.5,829.6 1737.7,829.6 1772.4,830.8 1807.1,831.9 1830.2,834.2 1853.4,835.4 1870.0,836.2 2000.0,836.2 2006.2,834.8 2018.3,823.9 2030.4,814.2 2044.9,804.5 2056.9,802.1 2069.0,799.6 2078.7,804.5 2090.7,811.8 2102.8,807.0 2117.3,816.6 2131.8,813.0 2141.4,810.6 2155.9,813.0 2165.6,809.4 2177.7,805.8 2187.3,809.4 2192.2,792.4 2201.8,783.9 2211.5,797.2 2221.1,804.5 2238.0,811.8 2254.9,821.4 2264.6,827.6 2279.1,825.2 2291.1,828.8 2310.5,832.4 2322.5,834.8 2362.0,836.2" fill="none" stroke="#0c12f0" stroke-width="12" stroke-linejoin="round" stroke-linecap="round" />
<polyline points="223.0,1923.5 286.0,1923.5 292.5,1900.3 298.0,1878.1 301.3,1855.8 303.5,1833.5 306.9,1812.4 310.2,1790.2 314.6,1769.0 317.9,1749.0 324.6,1727.9 333.4,1745.7 339.0,1732.3 346.7,1723.4 354.4,1745.7 361.1,1765.7 372.1,1746.8 382.1,1729.0 388.7,1709.0 397.6,1691.2 405.4,1681.1 422.0,1677.8 428.6,1655.6 436.3,1668.9 445.2,1662.2 450.7,1641.1 455.1,1619.9 460.5,1596.3 464.8,1576.2 464.8,1554.1 467.0,1533.7 467.0,1511.8 467.0,1489.2 467.0,1468.1 468.5,1446.2 472.1,1425.0 473.6,1402.3 474.0,1380.1 474.0,1357.4 474.0,1336.2 474.0,1314.2 473.1,1294.3 475.0,1340.9 476.0,1401.3 478.0,1441.5 482.0,1487.7 483.7,1471.0 486.6,1452.0 485.2,1433.0 488.1,1410.4 493.4,1388.6 492.5,1366.5 493.9,1387.8 505.4,1407.6 512.3,1415.4 525.2,1412.8 528.7,1435.9 531.6,1457.8 533.1,1479.8 534.5,1500.9 536.0,1522.8 536.7,1544.0 538.9,1565.9 541.5,1588.8 541.5,1608.8 544.8,1630.0 548.1,1651.1 552.5,1673.4 553.6,1695.6 554.8,1716.7 555.9,1739.0 557.0,1760.1 557.0,1782.4 561.4,1803.5 563.6,1824.7 566.9,1845.8 573.6,1866.9 581.3,1884.7 591.3,1902.5 604.6,1918.1 620.0,1922.6 640.0,1923.5 755.0,1923.5 765.6,1906.4 777.6,1889.4 786.1,1870.0 794.5,1849.4 806.6,1831.1 823.5,1817.8 840.4,1823.9 845.2,1802.1 848.9,1794.7 854.9,1816.6 859.7,1836.0 867.0,1854.2 883.9,1853.0 900.8,1838.5 911.6,1848.1 920.1,1828.7 928.5,1809.3 940.6,1797.1 946.6,1776.5 950.3,1753.5 953.9,1743.8 961.1,1765.7 967.2,1785.1 978.0,1803.3 992.5,1793.5 1008.2,1776.5 1014.2,1755.9 1016.7,1734.1 1020.3,1712.2 1023.9,1690.4 1038.4,1681.9 1040.8,1661.2 1040.8,1640.6 1045.6,1704.9 1048.0,1726.8 1050.5,1747.4 1052.9,1768.1 1058.9,1789.9 1060.1,1811.7 1062.5,1833.6 1063.7,1855.4 1065.0,1876.1 1067.4,1897.9 1074.6,1917.4 1085.0,1923.5 1110.0,1923.5" fill="none" stroke="#000" stroke-width="13" stroke-linejoin="round" stroke-linecap="round" stroke-dasharray="0 22"/>
<polyline points="760.0,1923.5 838.0,1922.0 843.0,1913.9 849.0,1907.9 855.0,1913.9 860.0,1922.0 1110.0,1923.0" fill="none" stroke="#f8870c" stroke-width="12" stroke-linejoin="round" stroke-linecap="round" />
<polyline points="223.0,1923.5 296.0,1923.5 303.5,1922.6 318.0,1910.9 330.0,1908.9 340.0,1903.9 347.0,1891.8 355.0,1906.9 372.0,1910.9 392.0,1915.0 412.0,1921.0 430.0,1923.5 1110.0,1923.5" fill="none" stroke="#8c8c10" stroke-width="12" stroke-linejoin="round" stroke-linecap="round" />
<polyline points="223.0,1923.5 286.0,1923.5 290.3,1920.4 303.5,1891.4 323.5,1862.5 341.2,1871.4 358.9,1878.1 374.4,1866.9 383.2,1855.8 392.1,1842.5 403.1,1829.1 416.4,1831.3 429.7,1811.3 440.8,1815.7 451.8,1797.9 458.5,1786.9 467.3,1766.8 467.3,1744.6 469.5,1673.4 472.9,1622.2 477.3,1651.1 481.7,1717.8 486.1,1673.4 491.7,1640.0 500.5,1655.6 507.2,1668.9 516.0,1657.8 524.9,1653.3 531.5,1668.9 535.9,1706.8 539.3,1751.2 544.8,1784.6 551.4,1802.4 557.0,1851.3 560.3,1884.7 573.6,1900.3 591.3,1913.6 611.2,1922.6 630.0,1923.5 765.0,1923.5 775.2,1923.0 796.9,1919.8 833.2,1917.4 869.4,1917.4 905.6,1914.9 929.7,1911.2 944.2,1905.2 953.9,1900.4 966.0,1906.4 990.1,1911.2 1014.2,1917.4 1038.4,1922.2 1050.0,1923.5 1110.0,1923.5" fill="none" stroke="#f00c16" stroke-width="12.5" stroke-linejoin="round" stroke-linecap="round" />
<polyline points="223.0,1923.5 301.3,1922.6 314.6,1918.1 370.0,1918.1 403.1,1920.4 420.8,1923.5 525.0,1923.0 531.5,1918.1 551.4,1902.5 569.1,1915.9 580.2,1923.0 770.0,1923.5 940.0,1923.0 953.9,1919.8 965.0,1923.0 1110.0,1923.5" fill="none" stroke="#16f016" stroke-width="12" stroke-linejoin="round" stroke-linecap="round" />
<polyline points="223.0,1923.5 286.0,1923.5 290.3,1922.6 303.5,1909.2 323.5,1891.4 339.0,1900.3 358.9,1904.8 370.0,1901.4 387.6,1900.3 398.7,1902.5 409.8,1908.1 423.0,1915.9 436.3,1919.3 469.5,1919.3 502.7,1918.1 524.9,1919.3 547.0,1920.4 591.3,1922.6 620.0,1923.5 750.0,1923.5 755.9,1923.4 770.4,1911.2 784.9,1896.7 799.4,1884.6 818.7,1879.7 833.2,1884.6 845.2,1889.4 857.3,1891.8 871.8,1901.6 891.1,1896.7 905.6,1899.2 924.9,1887.0 937.0,1884.6 946.6,1879.7 953.9,1867.6 963.5,1882.2 978.0,1891.8 997.3,1900.4 1016.7,1908.8 1026.3,1910.0 1039.6,1905.2 1050.5,1912.4 1062.5,1918.6 1074.6,1923.4 1110.0,1923.5" fill="none" stroke="#0c12f0" stroke-width="12.5" stroke-linejoin="round" stroke-linecap="round" />
<polyline points="1472.0,1903.0 1481.0,1903.0 1483.8,1894.0 1485.0,1871.9 1487.0,1849.9 1489.0,1825.8 1492.0,1806.7 1493.0,1784.7 1494.0,1762.6 1494.0,1740.6 1494.5,1728.5 1497.0,1751.6 1498.0,1773.7 1498.0,1796.7 1500.0,1817.8 1502.0,1839.8 1504.0,1860.9 1506.0,1880.9 1508.0,1900.0 1512.0,1903.0 1528.0,1903.0 1531.4,1893.9 1535.8,1873.9 1538.0,1854.0 1540.3,1831.8 1541.4,1809.5 1543.6,1787.4 1544.7,1767.4 1546.9,1747.4 1548.0,1725.2 1549.1,1705.3 1550.2,1684.2 1552.4,1663.1 1553.5,1640.9 1554.6,1619.8 1557.0,1661.3 1560.2,1705.3 1560.2,1725.2 1561.3,1747.4 1573.5,1759.6 1584.5,1774.1 1597.8,1785.2 1610.0,1786.3 1621.0,1767.4 1628.8,1747.4 1633.2,1726.3 1636.5,1706.4 1648.7,1698.5 1652.0,1718.6 1659.8,1740.8 1668.6,1739.7 1669.7,1718.6 1674.2,1697.4 1677.5,1676.4 1678.6,1656.4 1683.0,1635.4 1688.5,1652.0 1690.8,1674.2 1693.0,1696.3 1690.8,1716.4 1697.4,1683.1 1700.7,1661.9 1701.8,1639.8 1704.0,1619.8 1705.1,1598.7 1707.4,1576.5 1707.8,1555.1 1710.1,1535.4 1710.1,1513.5 1710.1,1492.4 1711.6,1472.7 1712.4,1450.9 1713.1,1429.0 1714.6,1408.7 1716.1,1388.2 1716.9,1367.9 1717.6,1355.0 1720.6,1418.4 1725.2,1501.4 1725.9,1481.1 1727.4,1457.7 1728.2,1437.3 1733.4,1416.2 1735.7,1395.0 1736.4,1373.9 1742.5,1354.3 1743.2,1334.7 1743.2,1314.3 1747.7,1376.9 1752.3,1401.0 1759.8,1384.5 1761.3,1405.6 1763.5,1427.5 1763.5,1448.6 1765.1,1469.7 1766.6,1490.1 1768.8,1512.0 1770.3,1532.4 1773.3,1553.6 1778.2,1574.3 1780.4,1596.5 1781.5,1616.5 1783.7,1637.6 1784.8,1658.6 1788.2,1679.7 1789.3,1700.9 1792.6,1721.9 1795.9,1743.0 1797.0,1765.1 1798.1,1785.2 1801.4,1806.2 1803.6,1826.2 1808.1,1847.2 1815.8,1863.9 1825.8,1882.8 1841.3,1898.4 1855.0,1903.0 2005.0,1903.0 2015.9,1870.4 2026.6,1851.5 2041.9,1836.0 2060.9,1829.0 2078.6,1839.6 2095.1,1842.0 2112.9,1844.3 2127.1,1829.0 2141.2,1813.6 2148.3,1793.4 2153.1,1772.0 2156.6,1750.7 2160.2,1729.4 2162.5,1709.3 2175.5,1715.2 2181.4,1693.8 2187.3,1735.3 2195.6,1753.1 2205.1,1772.0 2219.3,1775.7 2227.5,1763.7 2233.4,1742.5 2245.3,1722.3 2252.4,1702.2 2258.3,1680.8 2263.0,1661.8 2273.6,1645.2 2279.6,1625.0 2286.6,1604.9 2290.6,1582.1 2292.2,1561.7 2298.0,1624.2 2298.5,1646.4 2298.5,1667.8 2299.7,1689.1 2300.8,1710.4 2304.4,1730.5 2307.9,1750.7 2311.5,1772.0 2312.6,1793.4 2313.8,1814.8 2315.0,1836.0 2317.4,1856.2 2319.7,1877.5 2325.6,1896.5 2335.0,1903.0 2340.0,1903.0" fill="none" stroke="#000" stroke-width="12" stroke-linejoin="round" stroke-linecap="round" stroke-dasharray="0 21.5"/>
<polygon points="1484.0,1903.0 1490.0,1856.9 1495.0,1828.8 1500.0,1856.9 1505.0,1903.0" fill="#f8870c"/>
<polygon points="1536.0,1903.0 1542.0,1851.9 1548.0,1816.8 1554.0,1799.7 1558.0,1816.8 1561.0,1851.9 1562.0,1903.0" fill="#f8870c"/>
<polyline points="1472.0,1903.0 1484.0,1903.0 1486.0,1892.0 1490.0,1856.9 1495.0,1828.8 1500.0,1856.9 1503.0,1892.0 1505.0,1903.0 1535.0,1903.0 1537.0,1892.0 1542.0,1851.9 1548.0,1816.8 1554.0,1799.7 1558.0,1816.8 1560.5,1846.8 1561.5,1896.0 1564.0,1903.0 1690.0,1903.0 1695.2,1900.0 1701.0,1876.9 1708.5,1851.8 1718.4,1827.3 1728.4,1840.6 1732.0,1866.9 1735.0,1896.0 1738.0,1903.0 2090.0,1903.0 2100.0,1899.0 2140.0,1893.0 2150.0,1877.9 2160.0,1886.0 2171.0,1875.9 2185.0,1892.0 2200.0,1901.0 2210.0,1903.0 2340.0,1903.0" fill="none" stroke="#f8870c" stroke-width="12" stroke-linejoin="round" stroke-linecap="round" />
<polyline points="1472.0,1903.0 1488.0,1903.0 1492.0,1895.0 1496.0,1887.0 1500.0,1895.0 1504.0,1903.0 1545.0,1903.0 1549.0,1881.9 1553.5,1857.9 1557.0,1881.9 1560.0,1903.0 2340.0,1903.0" fill="none" stroke="#089208" stroke-width="11" stroke-linejoin="round" stroke-linecap="round" />
<polyline points="1472.0,1903.0 1534.0,1903.0 1538.0,1896.1 1553.5,1871.7 1562.4,1861.7 1577.9,1857.3 1589.0,1862.9 1604.4,1866.2 1619.9,1854.0 1633.2,1834.0 1644.3,1822.9 1657.6,1841.7 1666.4,1838.4 1677.5,1807.3 1683.0,1787.4 1691.9,1827.3 1699.6,1807.3 1708.5,1783.0 1715.1,1740.8 1717.3,1718.6 1719.5,1762.9 1725.1,1785.2 1728.4,1751.9 1730.6,1718.6 1735.0,1678.6 1739.5,1629.8 1742.8,1607.6 1748.3,1652.0 1752.7,1629.8 1759.4,1652.0 1762.7,1629.8 1766.0,1663.1 1768.2,1707.5 1774.9,1723.0 1781.5,1751.9 1788.2,1780.8 1794.8,1807.3 1801.4,1840.6 1805.9,1869.5 1814.7,1885.1 1830.2,1896.1 1845.7,1901.7 1860.0,1903.0 2005.0,1903.0 2012.4,1901.3 2045.5,1896.5 2092.8,1895.4 2140.0,1891.8 2159.0,1887.1 2170.8,1883.4 2180.3,1879.9 2192.1,1884.7 2211.0,1890.6 2229.9,1897.7 2248.8,1902.4 2340.0,1903.0" fill="none" stroke="#f00c16" stroke-width="12" stroke-linejoin="round" stroke-linecap="round" />
<polyline points="1472.0,1903.0 1549.1,1902.8 1558.0,1898.5 1571.2,1898.0 1642.1,1899.0 1659.8,1902.8 1774.9,1898.4 1794.8,1889.5 1810.3,1896.1 1823.6,1902.8 2010.0,1903.0 2280.0,1902.5 2291.4,1891.8 2300.0,1902.0 2340.0,1903.0" fill="none" stroke="#16f016" stroke-width="11.5" stroke-linejoin="round" stroke-linecap="round" />
<polyline points="1472.0,1903.0 1535.0,1903.0 1540.3,1900.6 1553.5,1889.5 1564.6,1880.5 1580.1,1882.8 1593.4,1886.2 1606.7,1889.5 1620.0,1883.9 1637.6,1882.8 1648.7,1887.3 1659.8,1896.1 1677.5,1899.5 1708.5,1900.6 1717.3,1897.2 1730.6,1900.6 1774.9,1901.7 1819.1,1902.8 1840.0,1903.0 1990.0,1903.0 1995.8,1902.4 2005.3,1888.3 2019.5,1878.7 2033.7,1870.4 2050.2,1868.1 2062.0,1869.2 2071.5,1876.3 2085.7,1877.5 2104.6,1885.9 2128.2,1882.3 2154.2,1882.3 2166.1,1864.5 2180.3,1849.1 2194.4,1864.5 2208.6,1874.0 2225.2,1884.7 2241.7,1893.0 2258.3,1891.8 2277.2,1890.6 2291.4,1883.4 2298.5,1893.0 2307.9,1898.9 2322.1,1902.4 2340.0,1903.0" fill="none" stroke="#0c12f0" stroke-width="12" stroke-linejoin="round" stroke-linecap="round" />
<rect x="208.7" y="809.8" width="873.3" height="3.5" fill="#000"/>
<line x1="208.7" y1="67.5" x2="208.7" y2="825.2" stroke="#000" stroke-width="10.5" stroke-linecap="butt"/>
<circle cx="208.7" cy="825.2" r="5.25" fill="#000"/>
<line x1="1082.0" y1="67.5" x2="1082.0" y2="825.2" stroke="#000" stroke-width="10.5" stroke-linecap="butt"/>
<circle cx="1082.0" cy="825.2" r="5.25" fill="#000"/>
<rect x="1460.3" y="837.4" width="907.5" height="6.2" fill="#000"/>
<line x1="1460.3" y1="68.3" x2="1460.3" y2="855.0" stroke="#000" stroke-width="12" stroke-linecap="butt"/>
<circle cx="1460.3" cy="855.0" r="6.00" fill="#000"/>
<line x1="2367.8" y1="68.3" x2="2367.8" y2="855.0" stroke="#000" stroke-width="12" stroke-linecap="butt"/>
<circle cx="2367.8" cy="855.0" r="6.00" fill="#000"/>
<rect x="217.5" y="1925.7" width="898.5" height="5.3" fill="#000"/>
<line x1="217.5" y1="1157.8" x2="217.5" y2="1941.2" stroke="#000" stroke-width="11.5" stroke-linecap="butt"/>
<circle cx="217.5" cy="1941.2" r="5.75" fill="#000"/>
<line x1="1116.0" y1="1157.8" x2="1116.0" y2="1941.2" stroke="#000" stroke-width="11.5" stroke-linecap="butt"/>
<circle cx="1116.0" cy="1941.2" r="5.75" fill="#000"/>
<rect x="1467.3" y="1907.0" width="878.2" height="2.5" fill="#000"/>
<line x1="1467.3" y1="1157.2" x2="1467.3" y2="1919.8" stroke="#000" stroke-width="9.5" stroke-linecap="butt"/>
<circle cx="1467.3" cy="1919.8" r="4.75" fill="#000"/>
<line x1="2345.5" y1="1157.2" x2="2345.5" y2="1919.8" stroke="#000" stroke-width="9.5" stroke-linecap="butt"/>
<circle cx="2345.5" cy="1919.8" r="4.75" fill="#000"/>
</svg>
</body></html>
